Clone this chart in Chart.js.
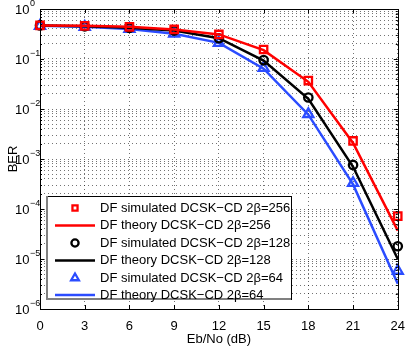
<!DOCTYPE html>
<html><head><meta charset="utf-8">
<script src="https://cdn.jsdelivr.net/npm/chart.js@4/dist/chart.umd.min.js"></script>
<style>html,body{margin:0;padding:0;background:#fff;}canvas{display:block;}</style>
</head><body>
<canvas id="c" width="415" height="346"></canvas>
<script>
// ---- data ----
const ebno = [0, 3, 6, 9, 12, 15, 18, 21, 24];
const xTickValues = [0, 3, 6, 9, 12, 15, 18, 21, 24];
const yDecades = [-6, -5, -4, -3, -2, -1, 0];
const sim256 = [0.47, 0.46, 0.44, 0.39, 0.31, 0.155, 0.037, 0.0023, 7.2e-5];
const theory256 = [0.47, 0.46, 0.44, 0.39, 0.31, 0.15, 0.035, 0.0021, 3.7e-5];
const sim128 = [0.47, 0.45, 0.42, 0.37, 0.26, 0.095, 0.017, 7.6e-4, 1.8e-5];
const theory128 = [0.47, 0.45, 0.42, 0.37, 0.26, 0.093, 0.016, 7.0e-4, 1.0e-5];
const sim64 = [0.46, 0.44, 0.40, 0.32, 0.21, 0.066, 0.0079, 3.3e-4, 5.8e-6];
const theory64 = [0.46, 0.44, 0.40, 0.32, 0.21, 0.064, 0.0077, 3.1e-4, 3.2e-6];
const legendLabels = [
  'DF simulated DCSK\u2212CD 2\u03b2=256',
  'DF theory DCSK\u2212CD 2\u03b2=256',
  'DF simulated DCSK\u2212CD 2\u03b2=128',
  'DF theory DCSK\u2212CD 2\u03b2=128',
  'DF simulated DCSK\u2212CD 2\u03b2=64',
  'DF theory DCSK\u2212CD 2\u03b2=64'
];
const xTitle = 'Eb/No (dB)';
const yTitle = 'BER';

const FONT = '"Liberation Sans", Arial, Helvetica, sans-serif';
const RED = '#ff0000', BLACK = '#000000', BLUE = '#2b4cff';
const pts = arr => ebno.map((x, i) => ({x: x, y: arr[i]}));

function simSet(label, arr, color, style, r) {
  return {label, data: pts(arr), showLine: false, borderColor: color, backgroundColor: 'rgba(0,0,0,0)',
    pointStyle: style, pointRadius: r, pointHoverRadius: r, pointBorderWidth: 2.3, pointBorderColor: color,
    pointBackgroundColor: 'rgba(0,0,0,0)', clip: false};
}
function lineSet(label, arr, color) {
  return {label, data: pts(arr), showLine: true, borderColor: color, borderWidth: 2.5, pointRadius: 0,
    pointHoverRadius: 0, tension: 0, fill: false, clip: false};
}
const datasets = [
  simSet(legendLabels[0], sim256, RED, 'rect', 5.2),
  lineSet(legendLabels[1], theory256, RED),
  simSet(legendLabels[2], sim128, BLACK, 'circle', 4.2),
  lineSet(legendLabels[3], theory128, BLACK),
  simSet(legendLabels[4], sim64, BLUE, 'triangle', 5.8),
  lineSet(legendLabels[5], theory64, BLUE)
];

const GRID = 'rgba(0,0,0,0.55)';

const axisPlugin = {
  id: 'axisDeco',
  afterDatasetsDraw(chart) {
    const ctx = chart.ctx, a = chart.chartArea;
    const xs = chart.scales.x, ys = chart.scales.y;
    ctx.save();
    ctx.strokeStyle = '#000'; ctx.lineWidth = 1;
    ctx.beginPath();
    xTickValues.forEach(v => {
      const px = Math.round(xs.getPixelForValue(v)) + 0.5;
      ctx.moveTo(px, a.bottom); ctx.lineTo(px, a.bottom - 4);
      ctx.moveTo(px, a.top); ctx.lineTo(px, a.top + 4);
    });
    yDecades.forEach(d => {
      for (let m = 1; m <= 9; m++) {
        if (d === 0 && m > 1) break;
        const py = Math.round(ys.getPixelForValue(m * Math.pow(10, d))) + 0.5;
        const len = m === 1 ? 4 : 2;
        ctx.moveTo(a.left, py); ctx.lineTo(a.left + len, py);
        ctx.moveTo(a.right, py); ctx.lineTo(a.right - len, py);
      }
    });
    ctx.stroke();
    ctx.strokeRect(Math.round(a.left) + 0.5, Math.round(a.top) + 0.5, Math.round(a.right - a.left), Math.round(a.bottom - a.top));
    ctx.fillStyle = '#000';
    ctx.textBaseline = 'middle';
    ctx.textAlign = 'left';
    yDecades.forEach(d => {
      const py = ys.getPixelForValue(Math.pow(10, d));
      ctx.font = '13px ' + FONT;
      ctx.fillText('10', 15, py + 1);
      ctx.font = '9px ' + FONT;
      ctx.fillText(d === 0 ? '0' : '\u2212' + (-d), 30, py - 5);
    });
    ctx.restore();
  },
  afterDraw(chart) {
    const ctx = chart.ctx;
    const L = 46, T = 196, R = 291, B = 299;
    ctx.save();
    ctx.fillStyle = '#fff';
    ctx.fillRect(L, T, R - L, B - T);
    ctx.strokeStyle = '#000'; ctx.lineWidth = 1;
    ctx.strokeRect(L + 0.5, T + 0.5, R - L, B - T);
    ctx.strokeStyle = '#808080'; ctx.lineWidth = 2;
    ctx.beginPath();
    ctx.moveTo(L + 1, T); ctx.lineTo(L + 1, B);
    ctx.lineTo(R, B);
    ctx.stroke();
    const rowY = [208, 225.5, 243, 260.5, 278, 295];
    datasets.forEach((ds, i) => {
      const y = rowY[i];
      if (ds.showLine) {
        ctx.strokeStyle = ds.borderColor; ctx.lineWidth = 2.5;
        ctx.beginPath(); ctx.moveTo(55, y); ctx.lineTo(95, y); ctx.stroke();
      } else {
        ctx.fillStyle = 'rgba(0,0,0,0)';
        ctx.strokeStyle = ds.borderColor; ctx.lineWidth = 2.3;
        Chart.helpers.drawPoint(ctx, {pointStyle: ds.pointStyle, radius: ds.pointStyle === 'triangle' ? 4.5 : 3.6, borderWidth: 2.3, rotation: 0}, 75, y);
      }
      ctx.font = '13px ' + FONT;
      ctx.textBaseline = 'middle';
      ctx.textAlign = 'left';
      ctx.fillStyle = '#000';
      ctx.fillText(ds.label, 100, y);
    });
    ctx.restore();
  }
};

new Chart(document.getElementById('c'), {
  type: 'line',
  data: {datasets},
  options: {
    responsive: false,
    animation: false,
    events: [],
    layout: {padding: {top: 9, right: 9, left: 0, bottom: 0}},
    plugins: {legend: {display: false}, tooltip: {enabled: false}},
    scales: {
      x: {
        type: 'linear', min: 0, max: 24,
        afterBuildTicks: s => { s.ticks = xTickValues.map(v => ({value: v})); },
        afterFit: s => { s.height = 37; },
        ticks: {color: '#000', font: {family: FONT, size: 13}, padding: 10, maxRotation: 0, autoSkip: false},
        grid: {color: GRID, lineWidth: 1, drawTicks: false},
        border: {display: false, dash: [1, 3]},
        title: {display: true, text: xTitle, color: '#000', font: {family: FONT, size: 13}, padding: {top: 0, bottom: -1}}
      },
      y: {
        type: 'logarithmic', min: 1e-6, max: 1,
        afterBuildTicks: s => {
          const t = [];
          yDecades.forEach(d => { for (let m = 1; m <= 9; m++) { if (d === 0 && m > 1) break; t.push({value: m * Math.pow(10, d)}); } });
          s.ticks = t;
        },
        afterFit: s => { s.width = 40; },
        ticks: {display: false, autoSkip: false},
        grid: {color: GRID, lineWidth: 1, drawTicks: false},
        border: {display: false, dash: [1, 3]},
        title: {display: true, text: yTitle, color: '#000', font: {family: FONT, size: 13}, padding: {top: 6, bottom: 0}}
      }
    }
  },
  plugins: [axisPlugin]
});
</script>
</body></html>
